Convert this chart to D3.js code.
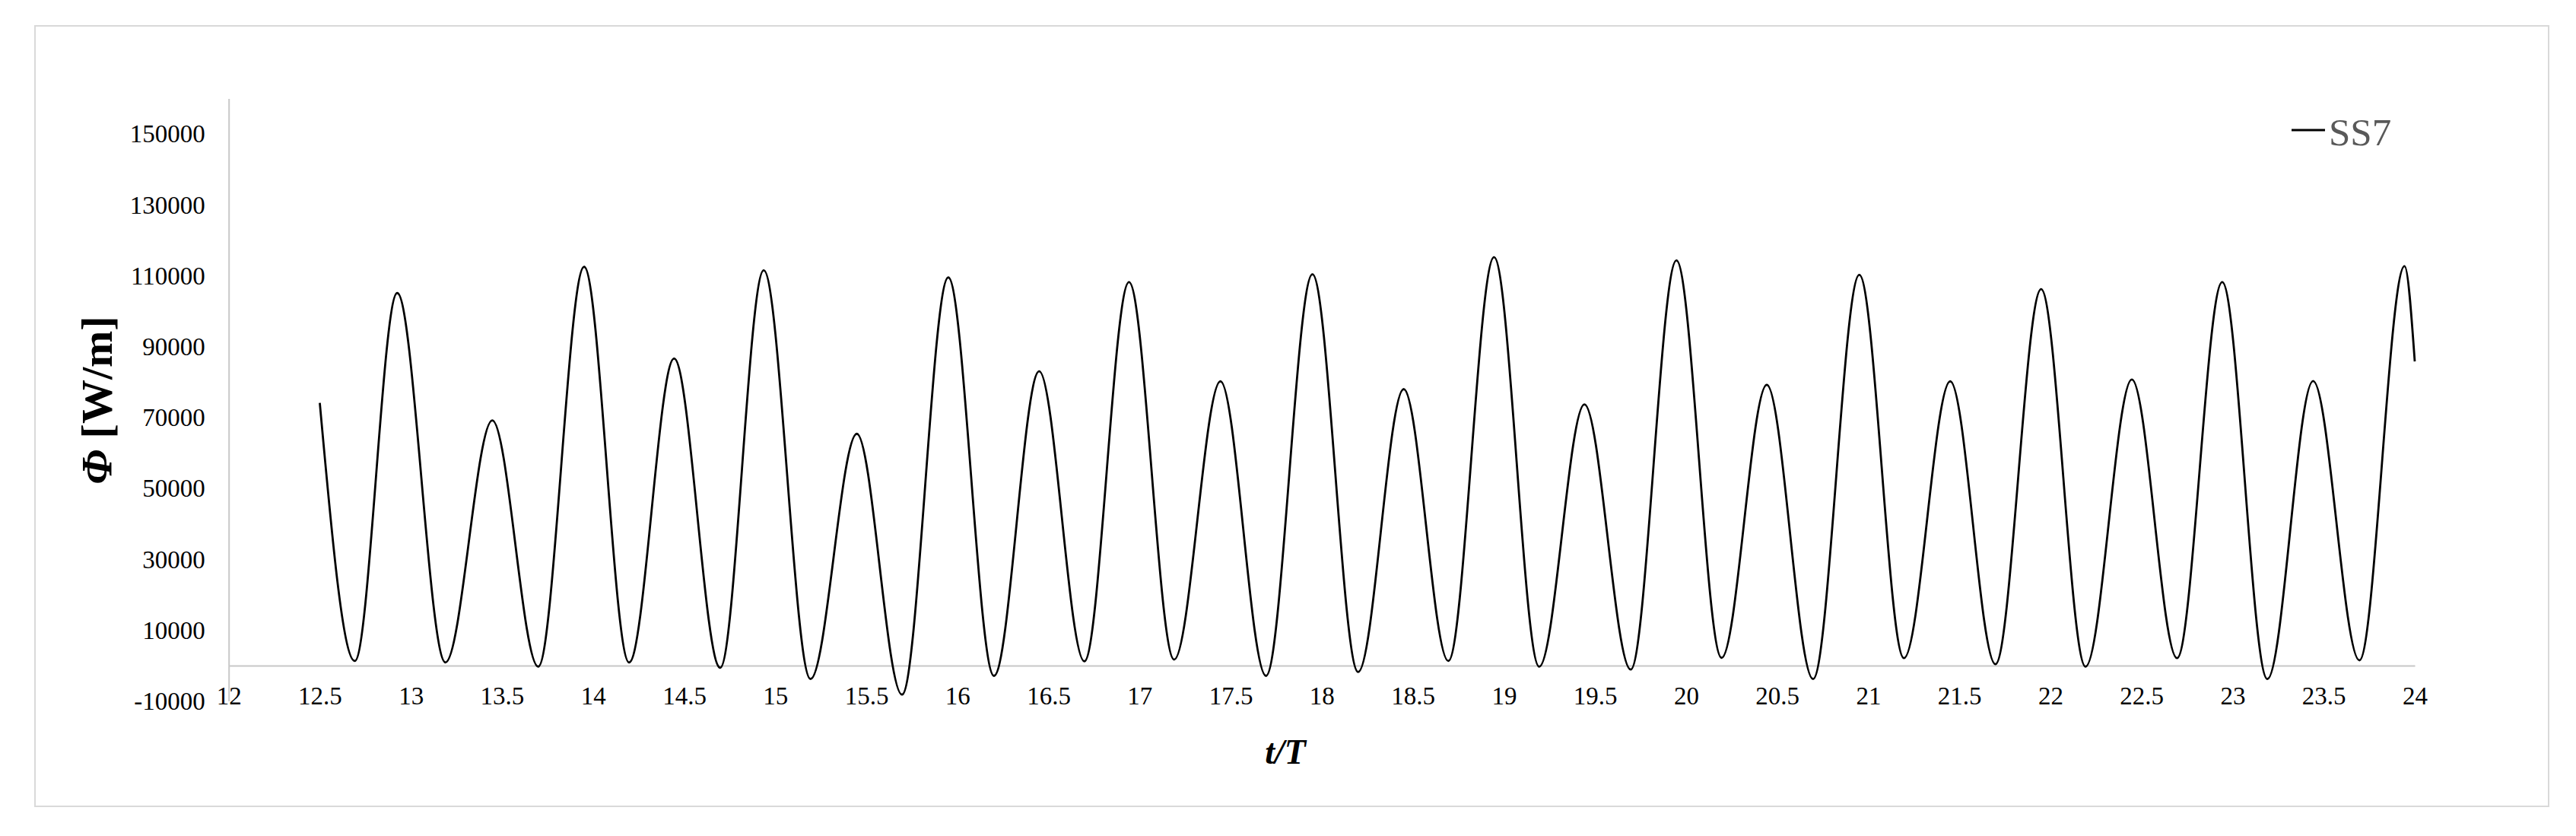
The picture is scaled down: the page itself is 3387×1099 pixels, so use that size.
<!DOCTYPE html>
<html>
<head>
<meta charset="utf-8">
<script src="https://cdn.jsdelivr.net/npm/d3@7"></script>
<style>
  html, body { margin: 0; padding: 0; background: #ffffff; }
  svg { display: block; }
</style>
</head>
<body>
<script>
// ---- Data ----
const seriesName = "SS7";
const tValues = [12.5, 12.692, 12.925, 13.19, 13.447, 13.699, 13.951, 14.198, 14.445, 14.698,
  14.937, 15.194, 15.448, 15.696, 15.95, 16.201, 16.449, 16.697, 16.942, 17.19,
  17.444, 17.694, 17.949, 18.2, 18.45, 18.695, 18.946, 19.194, 19.442, 19.696,
  19.947, 20.195, 20.443, 20.697, 20.951, 21.196, 21.45, 21.698, 21.949, 22.193,
  22.447, 22.695, 22.943, 23.191, 23.442, 23.696, 23.944, 24.0];
const phiValues = [74100, 1300, 105100, 900, 69200, -300, 112500, 900, 86600, -600,
  111500, -3800, 65400, -8200, 109500, -2900, 83000, 1200, 108200, 1700,
  80200, -2900, 110400, -1800, 78000, 1300, 115200, -300, 73700, -1100,
  114300, 2200, 79200, -3800, 110200, 2100, 80200, 400, 106200, -300,
  80700, 2100, 108200, -3800, 80300, 1500, 112700, 85800];
const xTicks = [12, 12.5, 13, 13.5, 14, 14.5, 15, 15.5, 16, 16.5, 17, 17.5, 18, 18.5,
  19, 19.5, 20, 20.5, 21, 21.5, 22, 22.5, 23, 23.5, 24];
const yTicks = [-10000, 10000, 30000, 50000, 70000, 90000, 110000, 130000, 150000];
const xDomain = [12, 24];
const yDomain = [-10000, 160000];

// ---- Layout ----
const W = 3387, H = 1099;
const font = "'Liberation Serif', 'Times New Roman', serif";

const svg = d3.select("body").append("svg")
  .attr("width", W).attr("height", H)
  .attr("viewBox", `0 0 ${W} ${H}`);

svg.append("rect").attr("width", W).attr("height", H).attr("fill", "#ffffff");

// Outer chart frame
svg.append("rect")
  .attr("x", 46).attr("y", 34)
  .attr("width", 3351 - 46).attr("height", 1060 - 34)
  .attr("fill", "none").attr("stroke", "#d9d9d9").attr("stroke-width", 2);

const x = d3.scaleLinear().domain(xDomain).range([300.7, 3175]);
const y = d3.scaleLinear().domain(yDomain).range([921.6, 129.4]);

// Y axis
const yAxis = d3.axisLeft(y).tickValues(yTicks).tickSize(0).tickPadding(31)
  .tickFormat(d => String(d));
const gy = svg.append("g").attr("transform", `translate(${x(12)},0)`).call(yAxis);
gy.select(".domain").attr("stroke", "#c8c8c8").attr("stroke-width", 2);
gy.selectAll("text")
  .attr("font-family", font).attr("font-size", 33).attr("fill", "#000")
  .attr("dy", "0.33em");

// X axis (crosses at 0)
const xAxis = d3.axisBottom(x).tickValues(xTicks).tickSize(0).tickPadding(0)
  .tickFormat(d => String(d));
const gx = svg.append("g").attr("transform", `translate(0,${y(0)})`).call(xAxis);
gx.select(".domain").attr("stroke", "#c8c8c8").attr("stroke-width", 2);
gx.selectAll("text")
  .attr("font-family", font).attr("font-size", 33).attr("fill", "#000")
  .attr("y", 0).attr("dy", 0)
  .attr("transform", `translate(0, ${926 - y(0)})`);

// Data line
const data = tValues.map((t, i) => ({ t, v: phiValues[i] }));
const line = d3.line().x(d => x(d.t)).y(d => y(d.v)).curve(d3.curveMonotoneX);
svg.append("path").datum(data)
  .attr("d", line)
  .attr("fill", "none").attr("stroke", "#000").attr("stroke-width", 2.8)
  .attr("stroke-linejoin", "round");

// Axis titles
svg.append("text")
  .attr("transform", `translate(147, 526) rotate(-90)`)
  .attr("text-anchor", "middle")
  .attr("font-family", font).attr("font-size", 58).attr("font-weight", "bold")
  .attr("fill", "#000")
  .call(t => {
    t.append("tspan").attr("font-style", "italic").text("Φ");
    t.append("tspan").text(" [W/m]");
  });

svg.append("text")
  .attr("x", 1690).attr("y", 1004)
  .attr("text-anchor", "middle")
  .attr("font-family", font).attr("font-size", 46).attr("font-weight", "bold")
  .attr("font-style", "italic").attr("fill", "#000")
  .text("t/T");

// Legend
svg.append("line")
  .attr("x1", 3013).attr("x2", 3057).attr("y1", 171).attr("y2", 171)
  .attr("stroke", "#000").attr("stroke-width", 2.8);
svg.append("text")
  .attr("x", 3062).attr("y", 191)
  .attr("font-family", font).attr("font-size", 51).attr("fill", "#595959")
  .text(seriesName);
</script>
</body>
</html>
